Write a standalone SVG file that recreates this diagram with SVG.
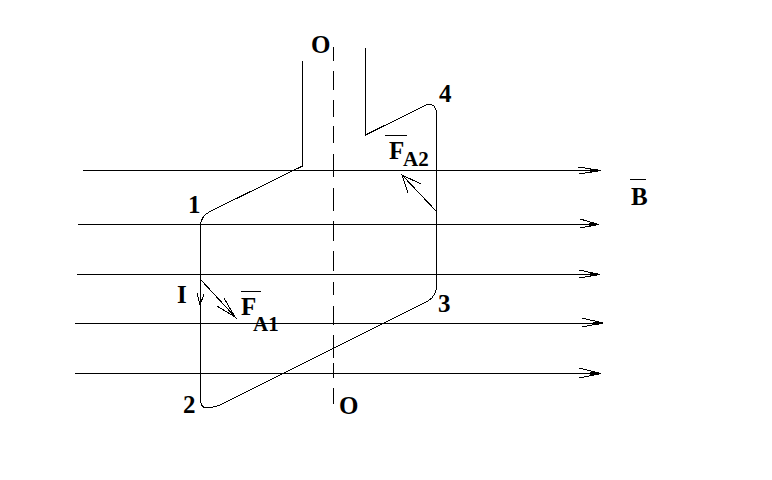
<svg xmlns="http://www.w3.org/2000/svg" width="772" height="480" viewBox="0 0 772 480">
<style>
.l{fill:none;stroke:#000;stroke-width:1;shape-rendering:crispEdges}
.h{fill:none;stroke:#000;stroke-width:3;shape-rendering:crispEdges}
.t{font-family:"Liberation Serif",serif;font-weight:bold;font-size:25px;fill:#000}
.u{font-family:"Liberation Serif",serif;font-weight:bold;font-size:21px;fill:#000}
</style>
<rect width="772" height="480" fill="#fff"/>
<g id="connectors">
<g id="field-lines">
<path class="l" d="M83 170.500H600M78 224.500H598M77 274.500H599M75 323.500H603M75 373.500H600"/>
<path class="l" d="M578 167L601 170.500L579 174M580 219L599 224.500L580 228M579 270L600 274.500L579 278M582 318L603 323L582 327M579 368L601 373.500L579 378"/>
<path class="h" d="M590 170.500H596M589 224.500H595M590 274.500H596M593 323.500H599M590 373.500H596"/>
</g>
<path id="axis" class="l" d="M333.500 47V61M333.500 71V90M333.500 100V117M333.500 126V143M333.500 154V177M333.500 188V211M333.500 221V241M333.500 251V271M333.500 282V295M333.500 306V325M333.500 335V358M333.500 363V378M333.500 388V404"/>
<path id="coil" class="l" d="M302.500 61V166L211 211Q200.500 216 200.500 226V399Q201 408 206 408Q212 408 220 405L428 301Q436.500 296 436.500 285V113Q436 104 428 104L365.500 135V48"/>
<path id="force-a1" class="l" d="M201 280L237 319M217 306L235 317L224 298"/>
<path id="force-a2" class="l" d="M437 212L402 175M421 184L402 175L408 193"/>
<path id="current" class="l" d="M197 293L200 305L204 294"/>
</g>
<g id="label-O-top"><text class="t" x="311" y="53">O</text></g>
<g id="label-O-bottom"><text class="t" x="339" y="414">O</text></g>
<g id="label-1"><text class="t" x="188" y="213">1</text></g>
<g id="label-2"><text class="t" x="183" y="413">2</text></g>
<g id="label-3"><text class="t" x="438" y="312">3</text></g>
<g id="label-4"><text class="t" x="439" y="102">4</text></g>
<g id="label-I"><text class="t" x="177" y="303">I</text></g>
<g id="label-B"><path class="l" d="M630 179.500H646"/><text class="t" x="631" y="205">B</text></g>
<g id="label-FA1"><path class="l" d="M241 291.500H261"/><text class="t" x="241" y="315">F</text><text class="u" x="253" y="331">A1</text></g>
<g id="label-FA2"><path class="l" d="M385 135.500H407"/><text class="t" x="389" y="159">F</text><text class="u" x="403" y="166">A2</text></g>
</svg>
